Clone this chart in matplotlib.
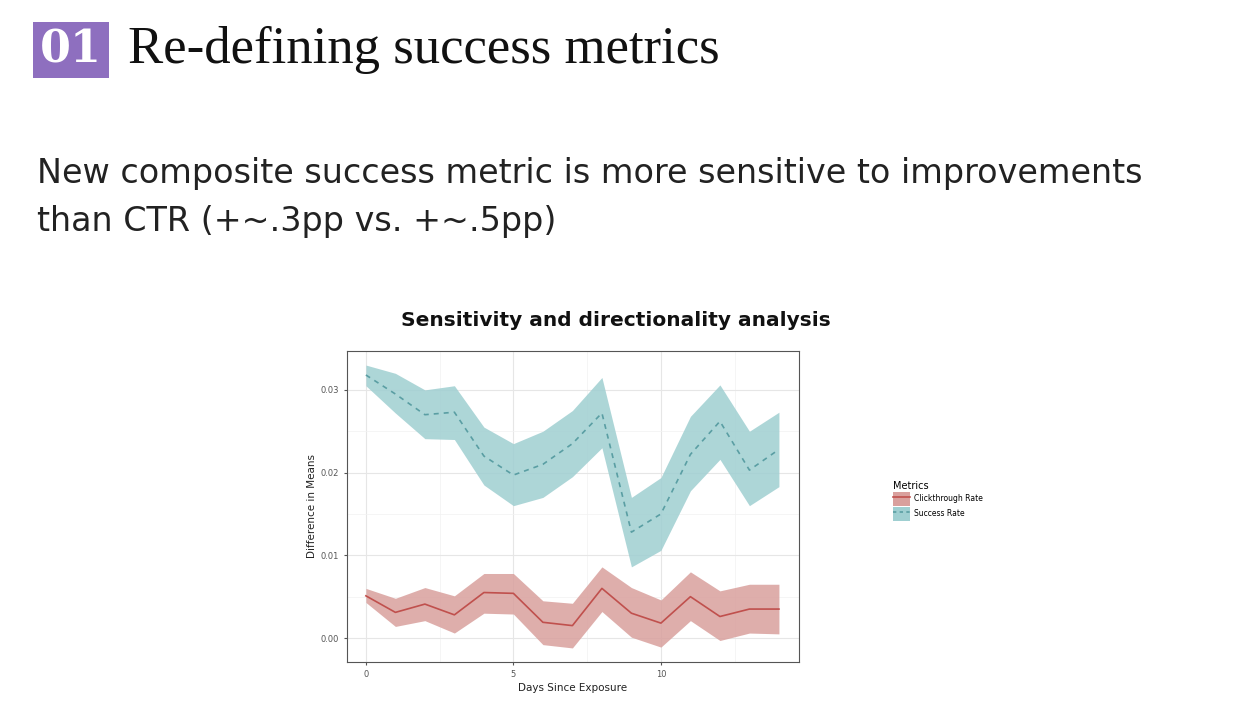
import numpy as np
import matplotlib
matplotlib.use('Agg')
import matplotlib.pyplot as plt
from matplotlib.patches import Patch
from matplotlib.lines import Line2D

days = np.arange(15)
sr_mean = [0.0318, 0.0295, 0.0270, 0.0273, 0.0220, 0.0197, 0.0210, 0.0235, 0.0272, 0.0128, 0.0150, 0.0222, 0.0262, 0.0203, 0.0228]
sr_hi = [0.0330, 0.0320, 0.0300, 0.0305, 0.0255, 0.0235, 0.0250, 0.0275, 0.0315, 0.0170, 0.0194, 0.0268, 0.0306, 0.0250, 0.0273]
sr_lo = [0.0305, 0.0272, 0.0241, 0.0240, 0.0185, 0.0160, 0.0170, 0.0195, 0.0230, 0.0086, 0.0106, 0.0178, 0.0216, 0.0160, 0.0183]
ctr_mean = [0.0051, 0.0031, 0.0041, 0.0028, 0.0055, 0.0054, 0.0019, 0.0015, 0.0060, 0.0030, 0.0018, 0.0050, 0.0026, 0.0035, 0.0035]
ctr_hi = [0.0060, 0.0048, 0.0061, 0.0051, 0.0078, 0.0078, 0.0045, 0.0042, 0.0086, 0.0061, 0.0046, 0.0080, 0.0057, 0.0065, 0.0065]
ctr_lo = [0.0043, 0.0014, 0.0021, 0.0006, 0.0030, 0.0029, -0.0008, -0.0012, 0.0032, 0.0001, -0.0011, 0.0021, -0.0003, 0.0006, 0.0005]

red = '#c0504d'
red_fill = '#d9a09d'
teal = '#5a9ea3'
teal_fill = '#9fcfd1'

fig = plt.figure(figsize=(12.54, 7.26), dpi=100)

# slide header
fig.text(40/1254, 1-50/726, '01', fontsize=32, fontweight='bold', color='white',
         family='DejaVu Serif', va='center', ha='left',
         bbox=dict(boxstyle='square,pad=0.15', fc='#8e6fbf', ec='none'))
fig.text(128/1254, 1-50/726, 'Re-defining success metrics', fontsize=38,
         family='Liberation Serif', va='center', ha='left', color='#111111')
fig.text(37/1254, 1-174/726, 'New composite success metric is more sensitive to improvements',
         fontsize=24, family='DejaVu Sans', va='center', ha='left', color='#222222')
fig.text(37/1254, 1-222/726, 'than CTR (+~.3pp vs. +~.5pp)',
         fontsize=24, family='DejaVu Sans', va='center', ha='left', color='#222222')
fig.text(616/1254, 1-320/726, 'Sensitivity and directionality analysis', fontsize=14.5,
         fontweight='bold', family='DejaVu Sans', va='center', ha='center', color='#111111')

ax = fig.add_axes([347/1254, 1-662/726, 452/1254, 311/726])
ax.fill_between(days, ctr_lo, ctr_hi, color=red_fill, alpha=0.85, lw=0)
ax.plot(days, ctr_mean, color=red, lw=1.2)
ax.fill_between(days, sr_lo, sr_hi, color=teal_fill, alpha=0.85, lw=0)
ax.plot(days, sr_mean, color=teal, lw=1.2, ls=(0, (3, 3)))

ax.set_xlim(-0.64, 14.68)
ax.set_ylim(-0.0029, 0.0347)
ax.set_xticks([0, 5, 10])
ax.set_yticks([0.0, 0.01, 0.02, 0.03])
ax.set_yticklabels(['0.00', '0.01', '0.02', '0.03'])
ax.set_xticks([2.5, 7.5, 12.5], minor=True)
ax.set_yticks([0.005, 0.015, 0.025], minor=True)
ax.grid(True, which='major', color='#e6e6e6', lw=0.8)
ax.grid(True, which='minor', color='#f2f2f2', lw=0.5)
ax.set_axisbelow(True)
ax.tick_params(labelsize=6, colors='#555555', length=2, which='major')
ax.tick_params(which='minor', length=0)
for s in ax.spines.values():
    s.set_color('#555555')
    s.set_linewidth(0.8)
ax.set_xlabel('Days Since Exposure', fontsize=7.5, color='#222222', labelpad=3)
ax.set_ylabel('Difference in Means', fontsize=7.5, color='#222222', labelpad=3)

handles = [(Patch(fc=red_fill, ec='none'), Line2D([], [], color=red, lw=1.2)),
           (Patch(fc=teal_fill, ec='none'), Line2D([], [], color=teal, lw=1.2, ls=(0, (2, 2))))]
leg = fig.legend(handles, ['Clickthrough Rate', 'Success Rate'], title='Metrics',
                 loc='upper left', bbox_to_anchor=(886/1254, 1-474/726), frameon=False,
                 fontsize=5.5, title_fontsize=7, handlelength=2.2, handleheight=2.4,
                 labelspacing=0.15, handletextpad=0.5)
leg._legend_box.align = 'left'

fig.savefig('out.png', dpi=100)
